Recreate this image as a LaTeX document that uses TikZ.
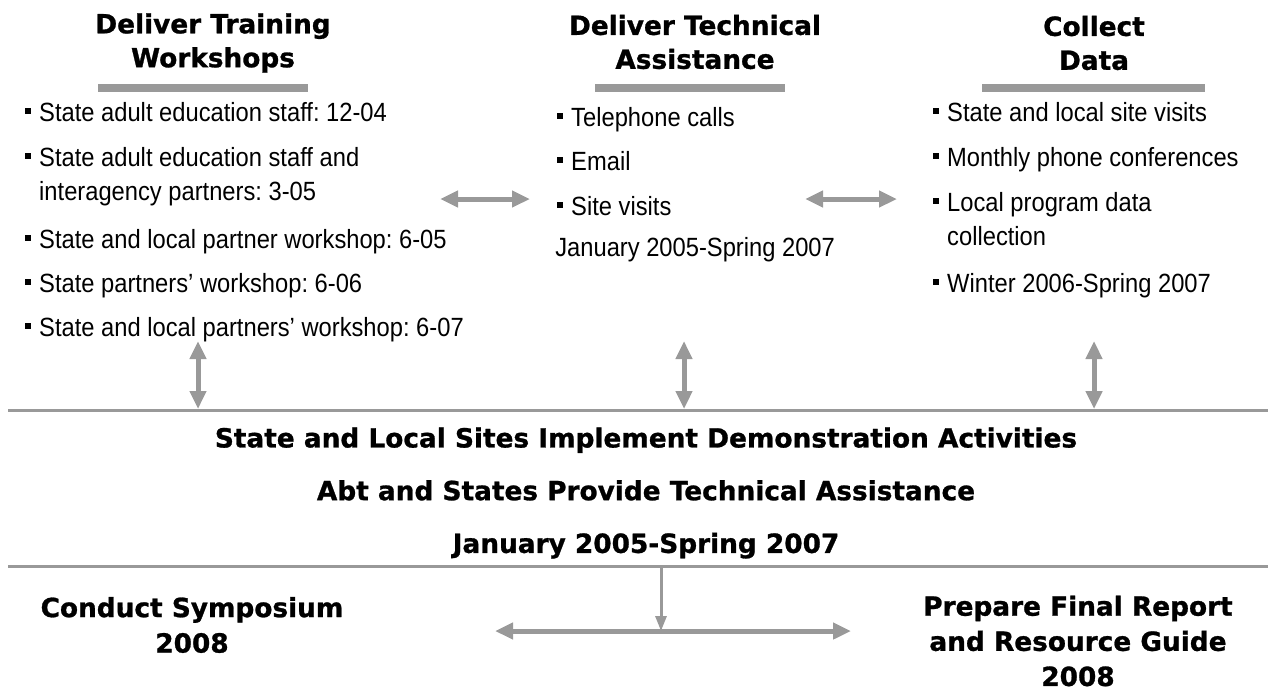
\documentclass[tikz,border=0pt]{standalone}
\usepackage{fontspec}
\setmainfont{Liberation Sans}
\newfontfamily\headfont[BoldFeatures={FakeBold=1}]{DejaVu Sans}
\newfontfamily\narrowfont[FakeStretch=0.9]{Liberation Sans}
\usetikzlibrary{arrows.meta,positioning}
\frenchspacing

\definecolor{flowgray}{HTML}{999999}
\newcommand\bul{\rule[4.2pt]{3.4pt}{3.4pt}\hspace{4.5pt}}

\tikzset{
  head/.style={font=\headfont\bfseries\fontsize{15}{19.3}\selectfont,align=center,inner sep=0pt},
  item/.style={font=\narrowfont\fontsize{15}{19.3}\selectfont,align=left,anchor=base west,inner sep=0pt},
  bar/.style={flowgray,line width=0.16cm},
  rule/.style={flowgray,line width=0.06cm},
  fat/.style={flowgray,line width=0.1cm,{Triangle[width=0.32cm,length=0.36cm]}-{Triangle[width=0.32cm,length=0.36cm]}},
  thin/.style={flowgray,line width=0.06cm,-{Triangle[width=0.22cm,length=0.3cm]}}
}

\begin{document}
\begin{tikzpicture}[x=0.02cm,y=-0.02cm]
  \useasboundingbox (0,0) rectangle (1268,690);

  % column headings with their bars
  \node[head] (train) at (213,43) {Deliver Training\\Workshops};
  \node[head] (assist) at (695,42) {Deliver Technical\\Assistance};
  \node[head] (collect) at (1094,43) {Collect\\Data};
  \draw[bar] (98,88) -- (308,88);
  \draw[bar] (595,88) -- (785,88);
  \draw[bar] (982,88) -- (1205,88);

  % training workshops
  \node[item] (t1) at (25,121) {\bul State adult education staff: 12-04};
  \node[item] (t2) at (25,200) {\bul State adult education staff and\\\phantom{\bul}interagency partners: 3-05};
  \node[item] (t3) at (25,248) {\bul State and local partner workshop: 6-05};
  \node[item] (t4) at (25,292) {\bul State partners’ workshop: 6-06};
  \node[item] (t5) at (25,336) {\bul State and local partners’ workshop: 6-07};

  % technical assistance
  \node[item] (a1) at (557,126) {\bul Telephone calls};
  \node[item] (a2) at (557,170) {\bul Email};
  \node[item] (a3) at (557,215) {\bul Site visits};
  \node[item] (a4) at (555,256) {January 2005-Spring 2007};

  % data collection
  \node[item] (d1) at (933,121) {\bul State and local site visits};
  \node[item] (d2) at (933,166) {\bul Monthly phone conferences};
  \node[item] (d3) at (933,245) {\bul Local program data\\\phantom{\bul}collection};
  \node[item] (d4) at (933,292) {\bul Winter 2006-Spring 2007};

  % arrows between the columns
  \coordinate (ta) at (440,199);
  \coordinate (at) at (530,199);
  \coordinate (ad) at (805,199);
  \coordinate (da) at (897,199);
  \draw[fat] (ta) -- (at);
  \draw[fat] (ad) -- (da);

  % implementation band
  \coordinate (topL) at (8,410);
  \coordinate (topR) at (1268,410);
  \coordinate (botL) at (8,566);
  \coordinate (botR) at (1268,566);
  \draw[rule] (topL) -- (topR);
  \draw[rule] (botL) -- (botR);
  \foreach \x/\n in {198/t,684/a,1094/d}{
    \coordinate (\n up) at (\x,341);
    \coordinate (\n dn) at (\x,409);
    \draw[fat] (\n up) -- (\n dn);
  }
  \node[head,font=\headfont\bfseries\fontsize{15}{30}\selectfont] (sites) at (646,493)
    {State and Local Sites Implement Demonstration Activities\\
     Abt and States Provide Technical Assistance\\
     January 2005-Spring 2007};

  % final products
  \node[head,font=\headfont\bfseries\fontsize{15}{20.2}\selectfont] (symp) at (192,625) {Conduct Symposium\\2008};
  \node[head,font=\headfont\bfseries\fontsize{15}{20}\selectfont] (report) at (1078,641) {Prepare Final Report\\and Resource Guide\\2008};
  \coordinate (split) at (661,566);
  \coordinate (join) at (661,631);
  \coordinate (toSymp) at (495,631);
  \coordinate (toRep) at (851,631);
  \draw[thin] (split) -- (join);
  \draw[fat] (toSymp) -- (toRep);
\end{tikzpicture}
\end{document}
